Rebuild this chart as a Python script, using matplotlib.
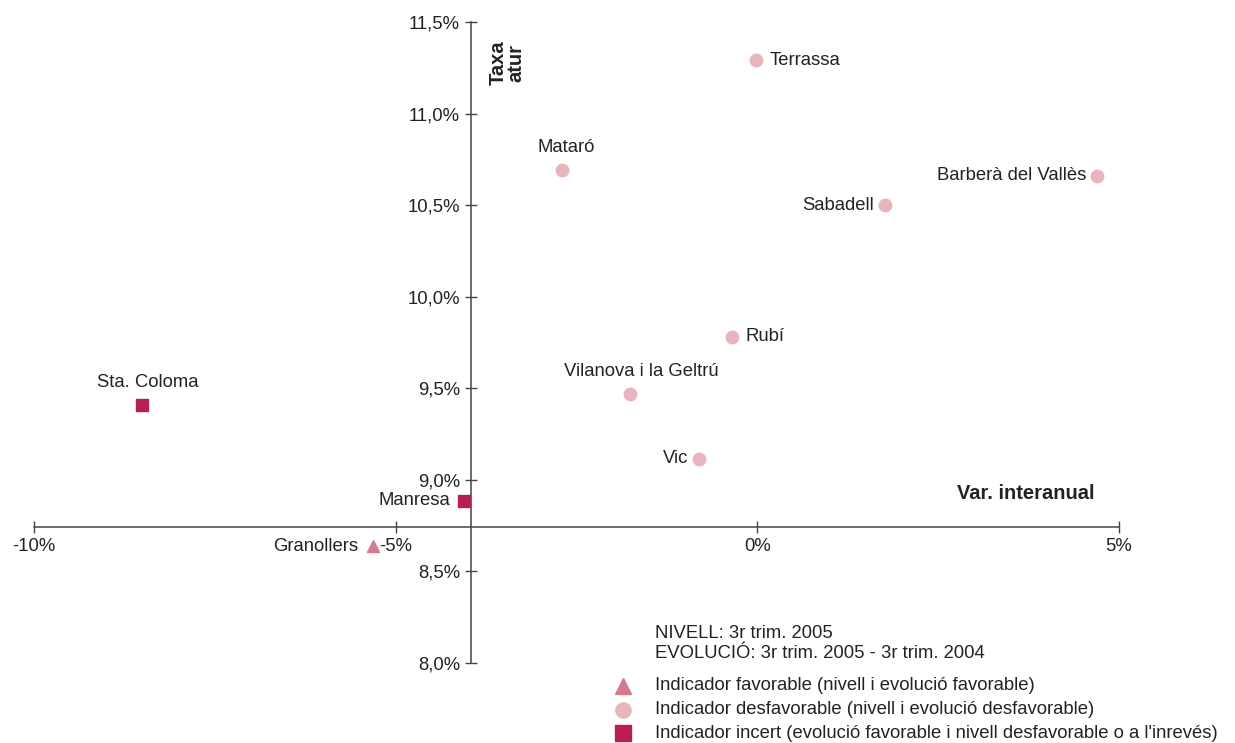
import matplotlib.pyplot as plt
from matplotlib import font_manager

# data
cities = ['Terrassa', 'Mataró', 'Barberà del Vallès', 'Sabadell', 'Rubí',
          'Vilanova i la Geltrú', 'Vic', 'Sta. Coloma', 'Manresa', 'Granollers']
var_interanual = [-0.02, -2.70, 4.70, 1.77, -0.35, -1.76, -0.80, -8.50, -4.05, -5.32]
taxa_atur = [11.29, 10.69, 10.66, 10.50, 9.78, 9.47, 9.115, 9.41, 8.885, 8.636]
kind = ['desf', 'desf', 'desf', 'desf', 'desf', 'desf', 'desf', 'incert', 'incert', 'fav']

x_ticks = [-10, -5, 0, 5]
x_tick_labels = ['-10%', '-5%', '0%', '5%']
y_ticks = [8.0, 8.5, 9.0, 9.5, 10.0, 10.5, 11.0, 11.5]
y_tick_labels = ['8,0%', '8,5%', '9,0%', '9,5%', '10,0%', '10,5%', '11,0%', '11,5%']

legend_labels = ['Indicador favorable (nivell i evolució favorable)',
                 'Indicador desfavorable (nivell i evolució desfavorable)',
                 "Indicador incert (evolució favorable i nivell desfavorable o a l'inrevés)"]

styles = {'fav': ('^', '#d57a8c', 9),
          'desf': ('o', '#e8b5bf', 9),
          'incert': ('s', '#b81e52', 9)}

# label offsets in points (dx, dy, ha, va)
label_off = {'Terrassa': (10, 0, 'left', 'center'),
             'Mataró': (3, 10, 'center', 'bottom'),
             'Barberà del Vallès': (-8, 0, 'right', 'center'),
             'Sabadell': (-8, 0, 'right', 'center'),
             'Rubí': (10, 0, 'left', 'center'),
             'Vilanova i la Geltrú': (8, 10, 'center', 'bottom'),
             'Vic': (-8, 0, 'right', 'center'),
             'Sta. Coloma': (4, 10, 'center', 'bottom'),
             'Manresa': (-10, 0, 'right', 'center'),
             'Granollers': (-10, 0, 'right', 'center')}

names = {f.name for f in font_manager.fontManager.ttflist}
plt.rcParams['font.family'] = 'Liberation Sans'
narrow = 'Liberation Sans Narrow' if 'Liberation Sans Narrow' in names else 'Liberation Sans'
txt_col = '#222222'
fs = 13.3

fig = plt.figure(figsize=(12.35, 7.43), dpi=100)
ax = fig.add_axes([0, 0, 1, 1])
ax.set_xlim(-10.470, 6.604)
ax.set_ylim(7.563, 11.620)
ax.patch.set_alpha(0)

x_axis_at = 8.745
y_axis_at = -3.958
ax.spines['top'].set_visible(False)
ax.spines['right'].set_visible(False)
ax.spines['left'].set_position(('data', y_axis_at))
ax.spines['bottom'].set_position(('data', x_axis_at))
ax.spines['left'].set_bounds(8.0, 11.5)
ax.spines['bottom'].set_bounds(-10, 5)
for s in ['left', 'bottom']:
    ax.spines[s].set_color('#444444')
    ax.spines[s].set_linewidth(1.1)

ax.set_xticks(x_ticks)
ax.set_xticklabels(x_tick_labels)
ax.set_yticks(y_ticks)
ax.set_yticklabels(y_tick_labels)
ax.tick_params(axis='both', direction='inout', length=8, width=1, color='#444444',
               labelsize=fs, labelcolor=txt_col)
ax.tick_params(axis='x', pad=4)
ax.tick_params(axis='y', pad=4)

for name, x, y, k in zip(cities, var_interanual, taxa_atur, kind):
    m, c, s = styles[k]
    ax.plot(x, y, marker=m, color=c, markersize=s, linestyle='none', zorder=3)
    dx, dy, ha, va = label_off[name]
    ax.annotate(name, (x, y), xytext=(dx, dy), textcoords='offset points',
                ha=ha, va=va, fontsize=fs, color=txt_col)

# axis titles
ax.text(-3.46, 11.40, 'Taxa\natur', rotation=90, ha='center', va='top',
        fontsize=14.5, fontweight='bold', family=narrow, color=txt_col, linespacing=0.95)
ax.text(-10 + (1094 - 34) / 72.33, 8.875, 'Var. interanual', ha='right', va='bottom',
        fontsize=14.5, fontweight='bold', family=narrow, color=txt_col)

# legend block
fig.text(655 / 1235, 1 - 634 / 743, 'NIVELL: 3r trim. 2005', ha='left', va='center',
         fontsize=fs, color=txt_col)
fig.text(655 / 1235, 1 - 653 / 743, 'EVOLUCIÓ: 3r trim. 2005 - 3r trim. 2004', ha='left',
         va='center', fontsize=fs, color=txt_col, linespacing=1)
for i, (k, lab) in enumerate(zip(['fav', 'desf', 'incert'], legend_labels)):
    yy = 1 - (686 + i * 23.5) / 743
    m, c, s = styles[k]
    fig.lines.append(plt.Line2D([623 / 1235], [yy], marker=m, color=c, markersize=11,
                                linestyle='none', transform=fig.transFigure))
    fig.text(655 / 1235, yy, lab, ha='left', va='center', fontsize=fs, color=txt_col)

fig.savefig('out.png', dpi=100)
